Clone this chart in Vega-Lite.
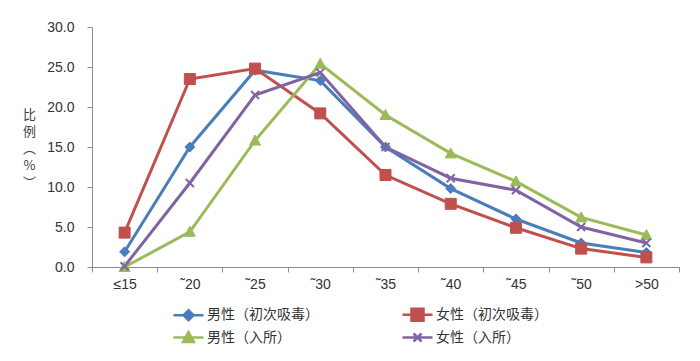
{
  "$schema": "https://vega.github.io/schema/vega-lite/v6.json",
  "width": 587,
  "height": 240,
  "autosize": "none",
  "padding": {"left": 92, "top": 27, "right": 21, "bottom": 94},
  "background": "white",
  "config": {"view": {"stroke": null}, "font": "Noto Sans CJK SC"},
  "data": {"values": [
    {"age": "≤15", "series": "男性（初次吸毒）", "value": 1.9},
    {"age": "˜20", "series": "男性（初次吸毒）", "value": 15.0},
    {"age": "˜25", "series": "男性（初次吸毒）", "value": 24.6},
    {"age": "˜30", "series": "男性（初次吸毒）", "value": 23.3},
    {"age": "˜35", "series": "男性（初次吸毒）", "value": 15.0},
    {"age": "˜40", "series": "男性（初次吸毒）", "value": 9.8},
    {"age": "˜45", "series": "男性（初次吸毒）", "value": 6.0},
    {"age": "˜50", "series": "男性（初次吸毒）", "value": 3.0},
    {"age": ">50", "series": "男性（初次吸毒）", "value": 1.8},
    {"age": "≤15", "series": "女性（初次吸毒）", "value": 4.3},
    {"age": "˜20", "series": "女性（初次吸毒）", "value": 23.5},
    {"age": "˜25", "series": "女性（初次吸毒）", "value": 24.8},
    {"age": "˜30", "series": "女性（初次吸毒）", "value": 19.2},
    {"age": "˜35", "series": "女性（初次吸毒）", "value": 11.5},
    {"age": "˜40", "series": "女性（初次吸毒）", "value": 7.9},
    {"age": "˜45", "series": "女性（初次吸毒）", "value": 4.9},
    {"age": "˜50", "series": "女性（初次吸毒）", "value": 2.3},
    {"age": ">50", "series": "女性（初次吸毒）", "value": 1.2},
    {"age": "≤15", "series": "男性（入所）", "value": 0.0},
    {"age": "˜20", "series": "男性（入所）", "value": 4.4},
    {"age": "˜25", "series": "男性（入所）", "value": 15.8},
    {"age": "˜30", "series": "男性（入所）", "value": 25.4},
    {"age": "˜35", "series": "男性（入所）", "value": 19.0},
    {"age": "˜40", "series": "男性（入所）", "value": 14.2},
    {"age": "˜45", "series": "男性（入所）", "value": 10.7},
    {"age": "˜50", "series": "男性（入所）", "value": 6.2},
    {"age": ">50", "series": "男性（入所）", "value": 4.0},
    {"age": "≤15", "series": "女性（入所）", "value": 0.1},
    {"age": "˜20", "series": "女性（入所）", "value": 10.5},
    {"age": "˜25", "series": "女性（入所）", "value": 21.5},
    {"age": "˜30", "series": "女性（入所）", "value": 24.3},
    {"age": "˜35", "series": "女性（入所）", "value": 15.0},
    {"age": "˜40", "series": "女性（入所）", "value": 11.1},
    {"age": "˜45", "series": "女性（入所）", "value": 9.6},
    {"age": "˜50", "series": "女性（入所）", "value": 5.0},
    {"age": ">50", "series": "女性（入所）", "value": 3.0}
  ]},
  "encoding": {
    "x": {
      "field": "age", "type": "ordinal",
      "sort": ["≤15", "˜20", "˜25", "˜30", "˜35", "˜40", "˜45", "˜50", ">50"],
      "scale": {"type": "band", "paddingInner": 0, "paddingOuter": 0},
      "bandPosition": 0.5,
      "axis": {
        "title": null, "labelAngle": 0, "tickBand": "extent", "tickSize": 5,
        "domainColor": "#8c8c8c", "tickColor": "#8c8c8c", "labelFont": "Liberation Sans",
        "labelFontSize": 14, "labelColor": "#333333", "labelPadding": 5, "grid": false
      }
    },
    "y": {
      "field": "value", "type": "quantitative",
      "scale": {"domain": [0, 30], "nice": false},
      "axis": {
        "values": [0, 5, 10, 15, 20, 25, 30], "format": ".1f", "grid": false,
        "tickSize": 5, "domainColor": "#8c8c8c", "tickColor": "#8c8c8c",
        "labelFont": "Liberation Sans", "labelFontSize": 14, "labelColor": "#333333", "labelPadding": 13,
        "title": ["比", "例", "︵", "%", "︶"], "titleAngle": 0, "titleX": -63, "titleY": 81,
        "titleAlign": "center", "titleBaseline": "top", "titleLineHeight": 17,
        "titleFontSize": 13, "titleFontWeight": "normal", "titleColor": "#404040",
        "titleFont": "Noto Sans CJK SC"
      }
    }
  },
  "layer": [
    {
      "mark": {"type": "line", "strokeWidth": 3},
      "encoding": {
        "color": {
          "field": "series", "type": "nominal",
          "scale": {"domain": ["男性（初次吸毒）", "女性（初次吸毒）", "男性（入所）", "女性（入所）"], "range": ["#4a7ebb", "#c0504d", "#9bbb59", "#8064a2"]},
          "legend": {
            "orient": "none", "legendX": 85, "legendY": 276, "direction": "horizontal", "columns": 2,
            "columnPadding": 78, "rowPadding": -1, "padding": 0, "title": null,
            "symbolSize": 400, "symbolStrokeWidth": 3, "labelOffset": 7, "labelLimit": 300,
            "labelFont": "Noto Sans CJK SC", "labelFontSize": 14, "labelColor": "#333333",
            "encode": {"symbols": {"update": {
              "shape": {"signal": "datum.value === '男性（初次吸毒）' ? 'M-1.5,0L1.5,0M0,-0.5L0.5,0L0,0.5L-0.5,0Z' : datum.value === '女性（初次吸毒）' ? 'M-1.5,0L1.5,0M-0.6,-0.6L0.6,-0.6L0.6,0.6L-0.6,0.6Z' : datum.value === '男性（入所）' ? 'M-1.5,0L1.5,0M0,-0.55L0.55,0.45L-0.55,0.45Z' : 'M-1.5,0L1.5,0M-0.4,-0.4L0.4,0.4M-0.4,0.4L0.4,-0.4'"},
              "size": {"value": 400},
              "fill": {"signal": "scale('color', datum.value)"},
              "stroke": {"signal": "scale('color', datum.value)"},
              "strokeWidth": {"value": 2.5},
              "opacity": {"value": 1}
            }}}
          }
        }
      }
    },
    {
      "transform": [{"filter": "datum.series === '男性（初次吸毒）'"}],
      "mark": {"type": "point", "filled": true, "opacity": 1, "size": 100, "shape": "M0,-1L1,0L0,1L-1,0Z", "color": "#4a7ebb", "stroke": "#4a7ebb", "strokeWidth": 1}
    },
    {
      "transform": [{"filter": "datum.series === '女性（初次吸毒）'"}],
      "mark": {"type": "point", "filled": true, "opacity": 1, "size": 100, "shape": "M-1.1,-1.1L1.1,-1.1L1.1,1.1L-1.1,1.1Z", "color": "#c0504d", "stroke": "#c0504d", "strokeWidth": 1}
    },
    {
      "transform": [{"filter": "datum.series === '男性（入所）'"}],
      "mark": {"type": "point", "filled": true, "opacity": 1, "size": 100, "shape": "M0,-1.1L1.1,0.9L-1.1,0.9Z", "color": "#9bbb59", "stroke": "#9bbb59", "strokeWidth": 1}
    },
    {
      "transform": [{"filter": "datum.series === '女性（入所）'"}],
      "mark": {"type": "point", "filled": false, "opacity": 1, "size": 100, "shape": "M-0.8,-0.8L0.8,0.8M-0.8,0.8L0.8,-0.8", "color": "#8064a2", "strokeWidth": 2}
    }
  ]
}
